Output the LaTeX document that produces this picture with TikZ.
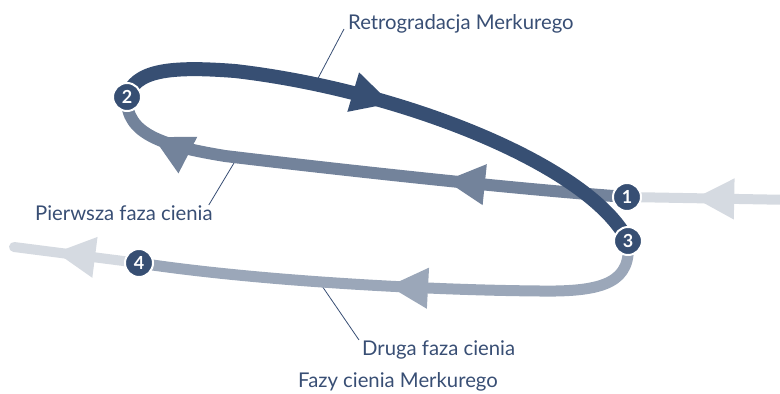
\documentclass[tikz,border=0pt]{standalone}
\usepackage{fontspec}
\setmainfont{Lato}
\usetikzlibrary{arrows.meta,decorations.markings}
\definecolor{navy}{HTML}{374F73}
\definecolor{slate}{HTML}{73839B}
\definecolor{haze}{HTML}{9BA7B9}
\definecolor{mist}{HTML}{D5DAE1}
\definecolor{ink}{HTML}{384E74}
\pgfdeclarelayer{bg}
\pgfsetlayers{bg,main}

\begin{document}
\begin{tikzpicture}[x=1pt, y=-1pt,
    stage/.style={circle, fill=navy, draw=white, line width=2pt, minimum size=28pt, inner sep=0pt,
      text=white, font=\bfseries\fontsize{18}{18}\selectfont},
    caption/.style={anchor=base west, inner sep=0pt, text=ink, font=\fontsize{20.3}{22}\selectfont},
    leader/.style={draw=ink, line width=0.8pt},
    headat/.style={postaction={decorate, decoration={markings,
      mark=at position #1 with {\arrow{Triangle[length=40pt, width=38pt]}}}}}]
 \useasboundingbox (0,0) rectangle (780,394);
 % the four stages
 \node[stage] (1) at (627,197) {1};
 \node[stage] (2) at (127,97) {2};
 \node[stage] (3) at (628,241) {3};
 \node[stage] (4) at (139,263) {4};
 \coordinate (in) at (795,200);
 \coordinate (out) at (14,247);
 % labels
 \node[caption] (retro) at (348,29) {Retrogradacja Merkurego};
 \node[caption] (pierwsza) at (35,220) {Pierwsza faza cienia};
 \node[caption] (druga) at (362,355) {Druga faza cienia};
 \node[caption] (fazy) at (298,387) {Fazy cienia Merkurego};
 \coordinate (retroend) at (315,84);
 \coordinate (pierwszaend) at (237,158);
 \coordinate (drugaend) at (320,283);
 \begin{pgfonlayer}{bg}
  \draw[leader] ([xshift=-4pt]retro.base west) -- (retroend);
  \draw[leader] ([xshift=-4pt]pierwsza.north east) -- (pierwszaend);
  \draw[leader] ([xshift=-3pt]druga.north west) -- (drugaend);
  % motion of the planet
  \draw[mist, line width=10pt, headat=0.6] (in) -- (1.center);
  \draw[slate, line width=12pt, headat=0.345, headat=0.905] (1.center)
    .. controls (500,188) and (300,165) .. (225,156)
    .. controls (165,146) and (125,135) .. (2.center);
  \draw[haze, line width=11pt, headat=0.52] (3.center)
    .. controls (632,282) and (605,292) .. (540,291)
    .. controls (420,290) and (250,280) .. (4.center);
  \draw[mist, line width=10pt, line cap=round, headat=0.67] (4.center) -- (out);
  \draw[navy, line width=14pt, headat=0.5] (2.center)
    .. controls (135,70) and (170,66) .. (235,71)
    .. controls (400,90) and (590,165) .. (3.center);
 \end{pgfonlayer}
\end{tikzpicture}
\end{document}
